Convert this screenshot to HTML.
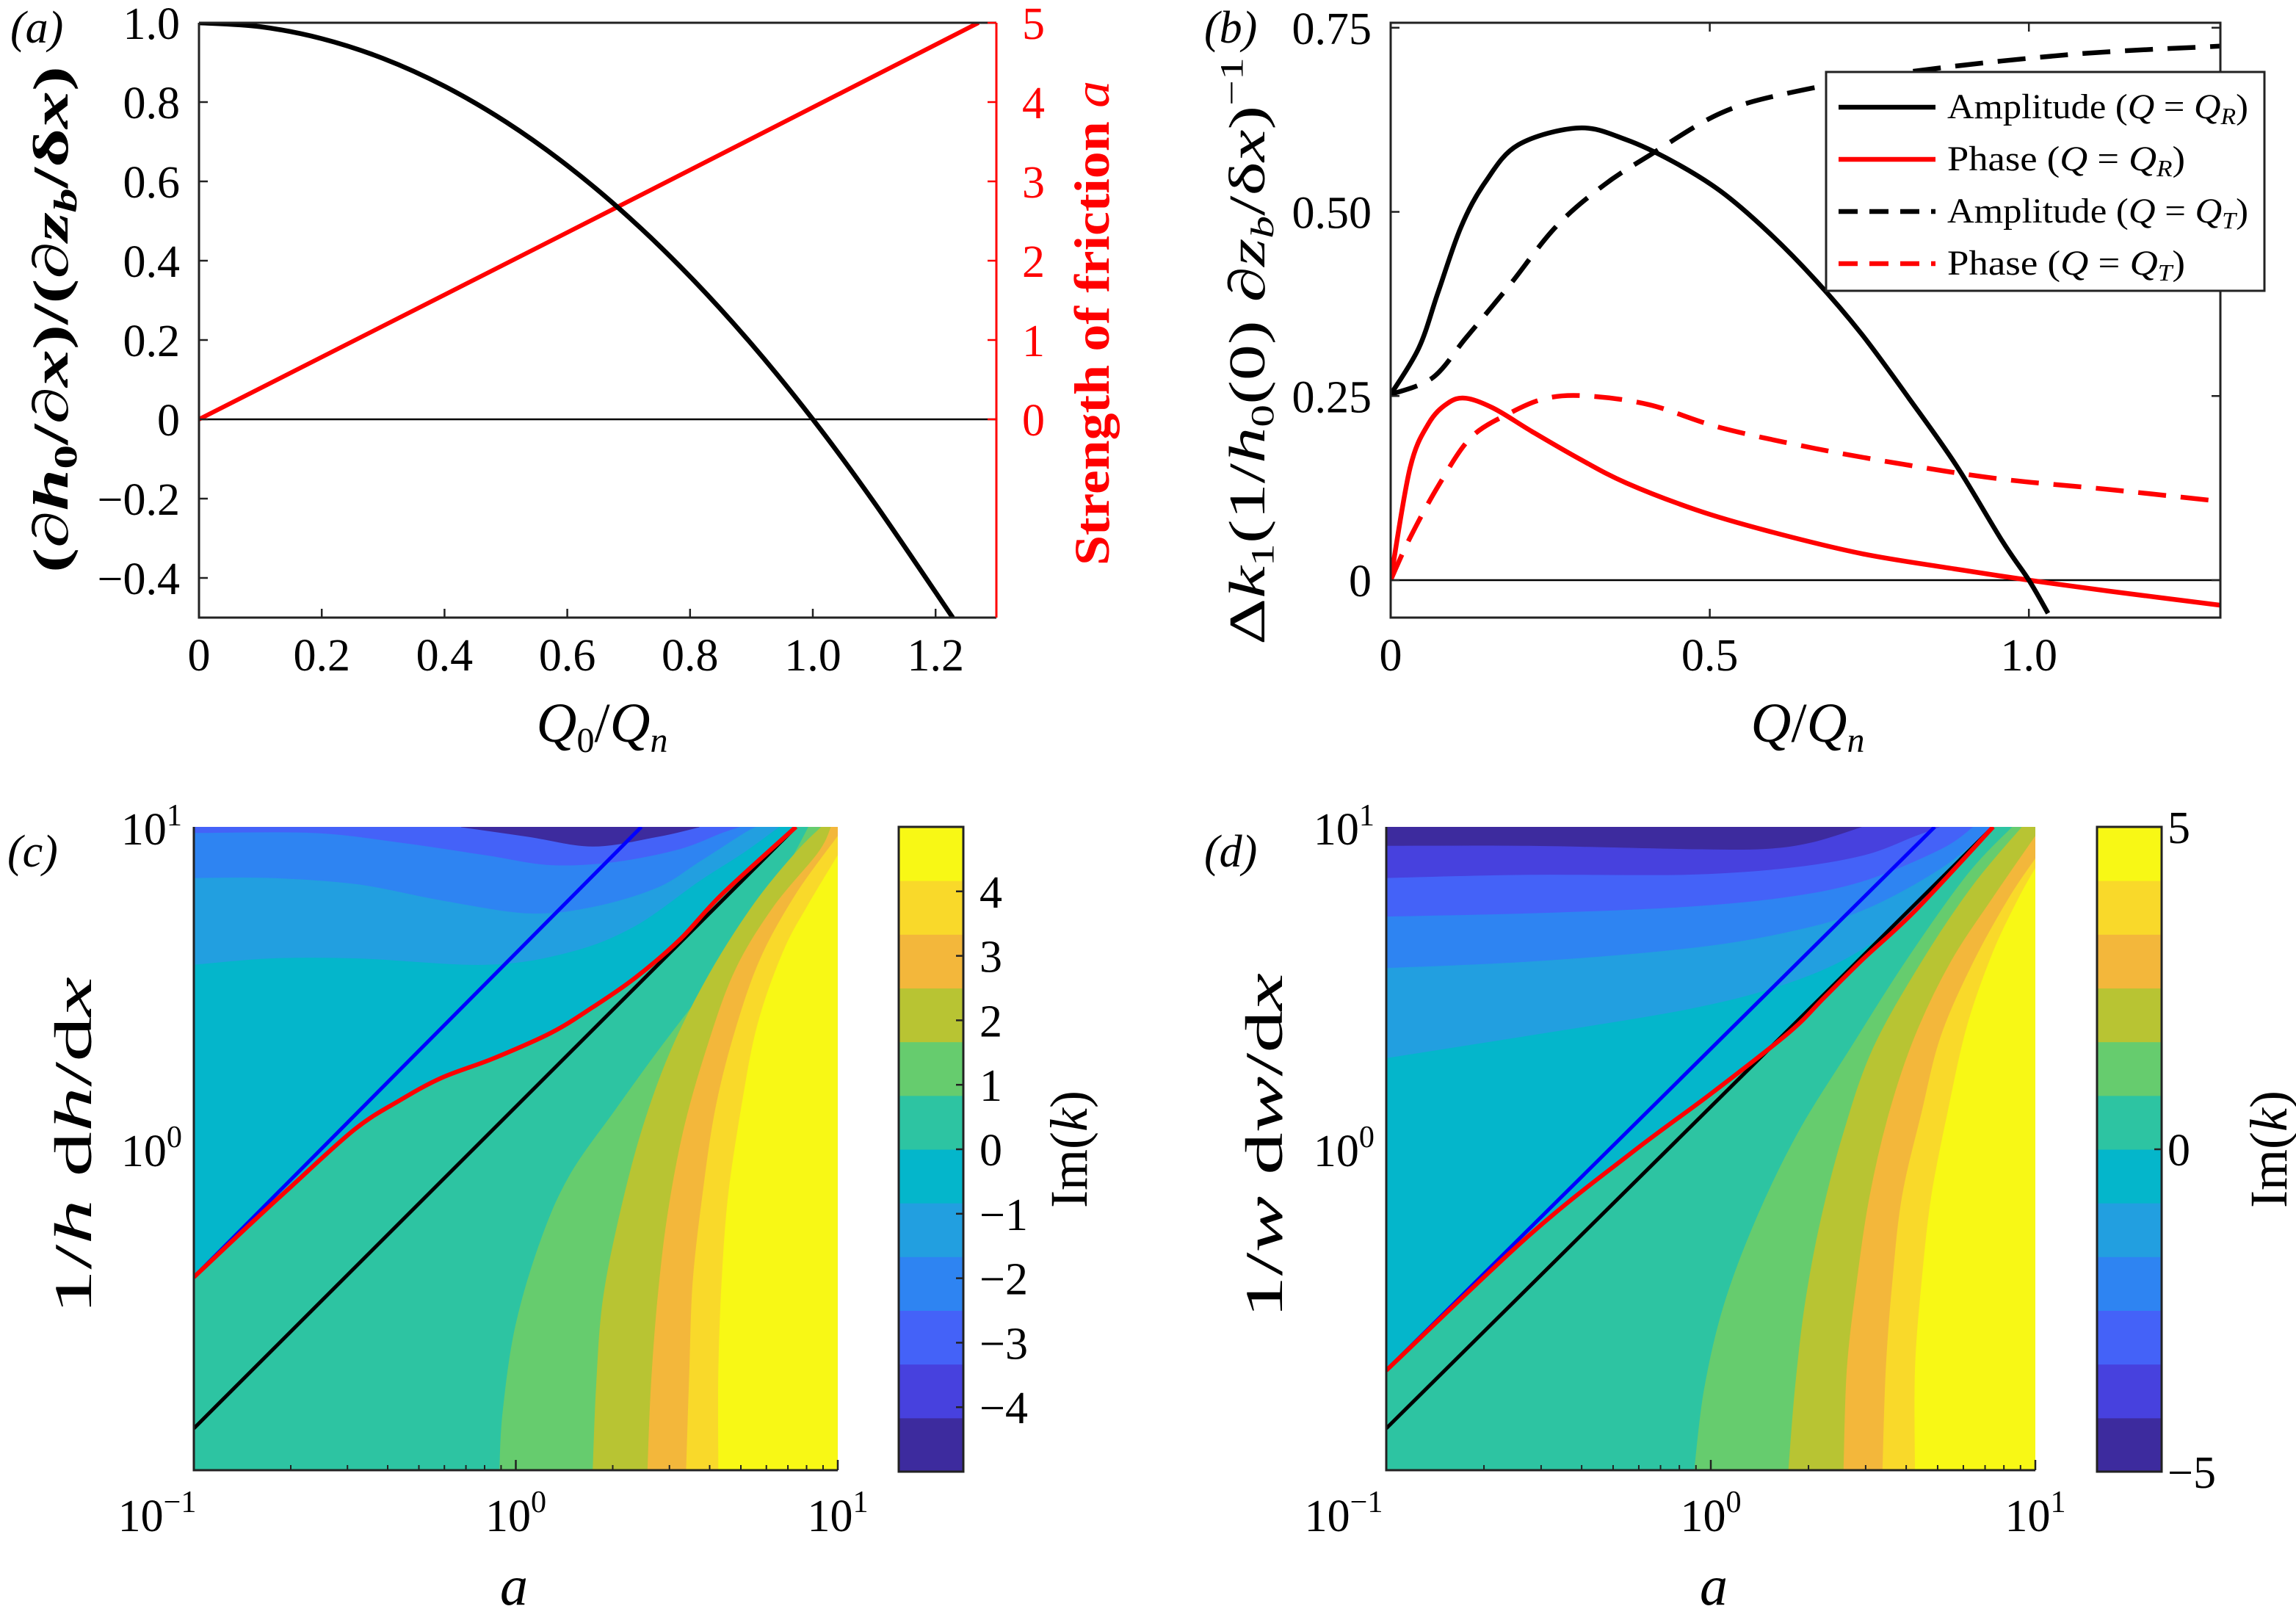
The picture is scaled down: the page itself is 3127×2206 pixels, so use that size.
<!DOCTYPE html>
<html><head><meta charset="utf-8">
<style>
html,body{margin:0;padding:0;background:#fff;}
svg{display:block;}
text{font-family:"Liberation Serif",serif;}
</style></head>
<body>
<svg id="fig" xmlns="http://www.w3.org/2000/svg" width="3127" height="2206" viewBox="0 0 3127 2206">
<defs>
<clipPath id="clipA"><rect x="271" y="31" width="1086" height="810"/></clipPath>
<clipPath id="clipB"><rect x="1894" y="31" width="1130" height="810"/></clipPath>
<clipPath id="clipC"><rect x="264" y="1126" width="877" height="876"/></clipPath>
<clipPath id="clipD"><rect x="1888" y="1126" width="884" height="876"/></clipPath>
</defs>
</svg>
<script>
// ---------- Panel (a) data ----------
const aQ = [0, 0.1, 0.2, 0.3, 0.4, 0.5, 0.6, 0.7, 0.8, 0.9, 1.0, 1.1, 1.228];
const aSlope = [1, 0.99, 0.96, 0.91, 0.84, 0.75, 0.64, 0.51, 0.36, 0.19, 0.0, -0.21, -0.5];
const aFrictionQ = [0, 0.68, 1.27];
const aFriction = [0, 2.67, 5.0];
const aXTicks = [0, 0.2, 0.4, 0.6, 0.8, 1.0, 1.2];
const aXTickLabels = ["0", "0.2", "0.4", "0.6", "0.8", "1.0", "1.2"];
const aYTicks = [-0.4, -0.2, 0, 0.2, 0.4, 0.6, 0.8, 1.0];
const aYTickLabels = ["\u22120.4", "\u22120.2", "0", "0.2", "0.4", "0.6", "0.8", "1.0"];
const aRTicks = [0, 1, 2, 3, 4, 5];
// ---------- Panel (b) data ----------
const bAmpRQ = [0, 0.044, 0.074, 0.11, 0.148, 0.2, 0.295, 0.369, 0.443, 0.517, 0.59, 0.664, 0.738, 0.812, 0.886, 0.959, 1.0, 1.03];
const bAmpR = [0.252, 0.315, 0.39, 0.479, 0.54, 0.591, 0.614, 0.598, 0.568, 0.528, 0.474, 0.409, 0.334, 0.247, 0.156, 0.052, 0, -0.045];
const bAmpTQ = [0, 0.066, 0.118, 0.185, 0.258, 0.332, 0.406, 0.517, 0.627, 0.812, 1.07, 1.3];
const bAmpT = [0.252, 0.275, 0.329, 0.399, 0.479, 0.535, 0.577, 0.634, 0.662, 0.69, 0.714, 0.725];
const bPhRQ = [0, 0.03, 0.059, 0.089, 0.118, 0.162, 0.221, 0.295, 0.369, 0.48, 0.59, 0.738, 0.886, 1.0, 1.126, 1.3];
const bPhR = [0, 0.151, 0.212, 0.24, 0.247, 0.233, 0.202, 0.165, 0.132, 0.095, 0.067, 0.036, 0.015, 0, -0.015, -0.034];
const bPhTQ = [0, 0.03, 0.074, 0.125, 0.185, 0.244, 0.31, 0.406, 0.517, 0.664, 0.812, 0.959, 1.126, 1.3];
const bPhT = [0, 0.057, 0.127, 0.193, 0.226, 0.247, 0.25, 0.238, 0.207, 0.179, 0.156, 0.137, 0.123, 0.107];
const bXTicks = [0, 0.5, 1.0];
const bXTickLabels = ["0", "0.5", "1.0"];
const bYTicks = [0, 0.25, 0.5, 0.75];
const bYTickLabels = ["0", "0.25", "0.50", "0.75"];
// ---------- Panel (c) data (log10 a, log10 y) ----------
const cBoundKind = ["blob","blob","lower","lower","lower","lower","lower","lower","lower","lower","lower"];
const cBoundBand = [1, 0, 3, 4, 5, 6, 7, 8, 9, 10, 11];
const cBoundLogA = [
 [0.07,0.24,0.39],
 [-0.17,0.04,0.24,0.44,0.57],
 [-1,-0.63,-0.36,-0.09,0.11,0.31,0.51,0.64,0.70],
 [-1,-0.76,-0.49,-0.23,0.04,0.24,0.44,0.57,0.71,0.75],
 [-1,-0.76,-0.49,-0.09,0.17,0.37,0.57,0.71,0.82],
 [-1,-0.83,-0.70,-0.50,-0.36,-0.23,-0.07,0.11,0.24,0.37,0.51,0.64,0.87],
 [-0.05,-0.04,0.00,0.08,0.17,0.31,0.44,0.57,0.71,0.84,0.91],
 [0.24,0.25,0.27,0.32,0.39,0.48,0.60,0.74,0.87,0.95],
 [0.41,0.42,0.44,0.47,0.52,0.59,0.68,0.80,0.94,0.98],
 [0.53,0.54,0.55,0.58,0.62,0.68,0.76,0.87,1],
 [0.63,0.63,0.64,0.66,0.70,0.75,0.83,0.91,1]
];
const cBoundLogY = [
 [1,0.98,1],
 [1,0.97,0.94,0.97,1],
 [0.98,0.98,0.95,0.91,0.88,0.89,0.93,0.98,1],
 [0.84,0.84,0.82,0.77,0.73,0.75,0.81,0.89,0.98,1],
 [0.57,0.59,0.59,0.57,0.61,0.69,0.83,0.92,1],
 [-0.40,-0.24,-0.12,0.06,0.15,0.22,0.28,0.36,0.44,0.53,0.65,0.79,1],
 [-1,-0.82,-0.55,-0.28,-0.08,0.12,0.30,0.47,0.65,0.87,1],
 [-1,-0.75,-0.48,-0.22,0.05,0.30,0.54,0.76,0.92,1],
 [-1,-0.75,-0.48,-0.22,0.05,0.30,0.55,0.75,0.92,1],
 [-1,-0.69,-0.42,-0.15,0.12,0.36,0.59,0.79,0.97],
 [-1,-0.69,-0.42,-0.15,0.12,0.38,0.61,0.76,0.91]
];
const cRedLogA = [-1,-0.83,-0.70,-0.50,-0.36,-0.23,-0.07,0.11,0.24,0.37,0.51,0.64,0.87];
const cRedLogY = [-0.40,-0.24,-0.12,0.06,0.15,0.22,0.28,0.36,0.44,0.53,0.65,0.79,1];
const cBlueLogA = [-1, 0.39];
const cBlueLogY = [-0.40, 1];
const cBlackLogA = [-1, 0.87];
const cBlackLogY = [-0.87, 1];
const cCbTicks = [-4,-3,-2,-1,0,1,2,3,4];
const cCbTickLabels = ["\u22124","\u22123","\u22122","\u22121","0","1","2","3","4"];
// ---------- Panel (d) data ----------
const dBoundKind = ["lower","lower","lower","lower","lower","lower","lower","lower","lower","lower","lower"];
const dBoundBand = [1,2,3,4,5,6,7,8,9,10,11];
const dBoundLogA = [
 [-1,-0.56,-0.08,0.16,0.31,0.47],
 [-1,-0.56,-0.08,0.23,0.47,0.63,0.71],
 [-1,-0.56,-0.08,0.23,0.47,0.71,0.81],
 [-1,-0.56,-0.08,0.23,0.47,0.71,0.87],
 [-1,-0.56,-0.08,0.23,0.47,0.71,0.92],
 [-1,-0.56,-0.24,0.00,0.24,0.35,0.47,0.63,0.87],
 [-0.05,-0.02,0.04,0.14,0.27,0.43,0.60,0.79,0.93],
 [0.24,0.26,0.29,0.34,0.41,0.50,0.65,0.81,0.96],
 [0.41,0.42,0.45,0.49,0.55,0.63,0.74,0.87,1],
 [0.53,0.54,0.56,0.59,0.65,0.71,0.81,0.92,1],
 [0.63,0.63,0.65,0.68,0.73,0.79,0.87,0.95,1]
];
const dBoundLogY = [
 [0.94,0.94,0.93,0.93,0.95,1],
 [0.84,0.85,0.85,0.87,0.91,0.97,1],
 [0.72,0.73,0.75,0.78,0.83,0.93,1],
 [0.56,0.58,0.62,0.67,0.74,0.87,1],
 [0.28,0.35,0.43,0.51,0.62,0.81,1],
 [-0.69,-0.27,-0.01,0.17,0.36,0.47,0.59,0.74,1],
 [-1,-0.75,-0.49,-0.22,0.05,0.31,0.58,0.85,1],
 [-1,-0.75,-0.49,-0.22,0.05,0.31,0.58,0.82,1],
 [-1,-0.69,-0.42,-0.15,0.11,0.35,0.58,0.78,0.97],
 [-1,-0.69,-0.42,-0.15,0.11,0.35,0.58,0.78,0.90],
 [-1,-0.69,-0.42,-0.15,0.11,0.38,0.61,0.78,0.87]
];
const dRedLogA = [-1,-0.56,-0.24,0.00,0.24,0.35,0.47,0.63,0.87];
const dRedLogY = [-0.69,-0.27,-0.01,0.17,0.36,0.47,0.59,0.74,1];
const dBlueLogA = [-1, 0.69];
const dBlueLogY = [-0.69, 1];
const dBlackLogA = [-1, 0.87];
const dBlackLogY = [-0.87, 1];
const dCbTicks = [-5, 0, 5];
const dCbTickLabels = ["\u22125", "0", "5"];
const cbEdges = [-5,-4.1667,-3.3333,-2.5,-1.6667,-0.8333,0,0.8333,1.6667,2.5,3.3333,4.1667,5];

const palette = ["#3d2b9e","#4741de","#4462f8","#2e84f2","#229fe0","#04b6cb","#2dc4a2","#66cc6e","#b8c433","#f3b73b","#f9d92a","#f8f815"];

// ---------- axis functions ----------
const xA = v => 271 + v * 836;
const yA = v => 571 - v * 540;
const yAr = v => 571 - v * 108;
const xB = v => 1894 + v * 869.2;
const yB = v => 790 - v * 1003;
const xC = u => 264 + (u + 1) / 2 * 877;
const yC = v => 2002 - (v + 1) / 2 * 876;
const xD = u => 1888 + (u + 1) / 2 * 884;
const yD = v => 2002 - (v + 1) / 2 * 876;
const yCbC = v => 1565 - v * 87.8;
const yCbD = v => 1565 - v * 87.8;

const svg = document.getElementById('fig');
const NS = 'http://www.w3.org/2000/svg';
function mk(tag, attrs, parent) {
  const el = document.createElementNS(NS, tag);
  for (const k in attrs) el.setAttribute(k, attrs[k]);
  (parent || svg).appendChild(el);
  return el;
}
// smooth Catmull-Rom path through mapped points
function pathFrom(xs, ys, fx, fy) {
  const P = xs.map((x, i) => [fx(x), fy(ys[i])]);
  let d = 'M' + P[0][0].toFixed(1) + ',' + P[0][1].toFixed(1);
  if (P.length < 3) {
    for (let i = 1; i < P.length; i++) d += 'L' + P[i][0].toFixed(1) + ',' + P[i][1].toFixed(1);
    return d;
  }
  for (let i = 0; i < P.length - 1; i++) {
    const p0 = P[Math.max(0, i - 1)], p1 = P[i], p2 = P[i + 1], p3 = P[Math.min(P.length - 1, i + 2)];
    const c1x = p1[0] + (p2[0] - p0[0]) / 6, c1y = p1[1] + (p2[1] - p0[1]) / 6;
    const c2x = p2[0] - (p3[0] - p1[0]) / 6, c2y = p2[1] - (p3[1] - p1[1]) / 6;
    d += 'C' + c1x.toFixed(1) + ',' + c1y.toFixed(1) + ' ' + c2x.toFixed(1) + ',' + c2y.toFixed(1) + ' ' + p2[0].toFixed(1) + ',' + p2[1].toFixed(1);
  }
  return d;
}
function txt(x, y, s, size, anchor, extra) {
  const t = mk('text', Object.assign({x: x, y: y, 'font-size': size, 'text-anchor': anchor || 'middle'}, extra || {}));
  t.textContent = s;
  return t;
}
function sup(x, y, base, exp, size, anchor) {
  const t = mk('text', {x: x, y: y, 'font-size': size, 'text-anchor': anchor || 'middle'});
  const a = document.createElementNS(NS, 'tspan'); a.textContent = base; t.appendChild(a);
  const b = document.createElementNS(NS, 'tspan'); b.setAttribute('dy', -size * 0.42); b.setAttribute('font-size', size * 0.68); b.textContent = exp; t.appendChild(b);
  return t;
}

// ================= PANEL A =================
let g, el;
g = mk('g', {});


el = mk('line', {x1: xA(0), y1: yA(0), x2: 1357, y2: yA(0), stroke: '#000', 'stroke-width': 2.5}, g);


el = mk('path', {d: pathFrom(aFrictionQ, aFriction, xA, yAr), fill: 'none', stroke: '#ff0000', 'stroke-width': 6, 'clip-path': 'url(#clipA)'}, g);


el = mk('path', {d: pathFrom(aQ, aSlope, xA, yA), fill: 'none', stroke: '#000', 'stroke-width': 6.5, 'clip-path': 'url(#clipA)'}, g);


el = mk('path', {d: 'M271,31H1357M271,31V841H1357', fill: 'none', stroke: '#222', 'stroke-width': 3}, g);


el = mk('line', {x1: 1357, y1: 31, x2: 1357, y2: 841, stroke: '#ff0000', 'stroke-width': 3}, g);


aXTicks.forEach((v, i) => {
  el = mk('line', {x1: xA(v), y1: 841, x2: xA(v), y2: 829, stroke: '#222', 'stroke-width': 2.5}, g);
  
  
  el = txt(xA(v), 913, aXTickLabels[i], 62);
  
  
});
aYTicks.forEach((v, i) => {
  el = mk('line', {x1: 271, y1: yA(v), x2: 283, y2: yA(v), stroke: '#222', 'stroke-width': 2.5}, g);
  
  
  el = txt(245, yA(v) + 22, aYTickLabels[i], 62, 'end');
  
  
});
aRTicks.forEach(v => {
  el = mk('line', {x1: 1357, y1: yAr(v), x2: 1345, y2: yAr(v), stroke: '#ff0000', 'stroke-width': 2.5}, g);
  
  
  el = txt(1392, yAr(v) + 22, String(v), 62, 'start', {fill: '#ff0000'});
  
  
});
el = txt(14, 58, '(a)', 62, 'start', {'font-style': 'italic'});


el = mk('text', {x: 820, y: 1010, 'font-size': 76, 'text-anchor': 'middle', 'font-style': 'italic'}, g);
el.innerHTML = 'Q<tspan font-size="48" dy="14" font-style="normal">0</tspan><tspan dy="-14" font-style="normal">/</tspan>Q<tspan font-size="48" dy="14">n</tspan>';


el = mk('text', {x: 0, y: 0, 'font-size': 68, 'text-anchor': 'middle', 'font-weight': 'bold', transform: 'translate(92,435) rotate(-90)', textLength: 690, lengthAdjust: 'spacingAndGlyphs'}, g);
el.innerHTML = '(∂<tspan font-style="italic">h</tspan><tspan font-size="44" dy="12">0</tspan><tspan dy="-12">/∂</tspan><tspan font-style="italic">x</tspan>)/(∂<tspan font-style="italic">z</tspan><tspan font-size="44" dy="12" font-style="italic">b</tspan><tspan dy="-12">/δ</tspan><tspan font-style="italic">x</tspan>)';


el = mk('text', {x: 0, y: 0, 'font-size': 68, 'text-anchor': 'middle', 'font-weight': 'bold', fill: '#ff0000', transform: 'translate(1510,440) rotate(-90)', textLength: 660, lengthAdjust: 'spacingAndGlyphs'}, g);
el.innerHTML = 'Strength of friction <tspan font-style="italic" font-weight="normal">a</tspan>';



// ================= PANEL B =================
g = mk('g', {});


el = mk('line', {x1: 1894, y1: yB(0), x2: 3024, y2: yB(0), stroke: '#000', 'stroke-width': 2.5}, g);


el = mk('path', {d: pathFrom(bPhTQ, bPhT, xB, yB), fill: 'none', stroke: '#ff0000', 'stroke-width': 6.5, 'stroke-dasharray': '38,20', 'clip-path': 'url(#clipB)'}, g);


el = mk('path', {d: pathFrom(bAmpTQ, bAmpT, xB, yB), fill: 'none', stroke: '#000', 'stroke-width': 6.5, 'stroke-dasharray': '38,20', 'clip-path': 'url(#clipB)'}, g);


el = mk('path', {d: pathFrom(bPhRQ, bPhR, xB, yB), fill: 'none', stroke: '#ff0000', 'stroke-width': 6.5, 'clip-path': 'url(#clipB)'}, g);


el = mk('path', {d: pathFrom(bAmpRQ, bAmpR, xB, yB), fill: 'none', stroke: '#000', 'stroke-width': 6.5, 'clip-path': 'url(#clipB)'}, g);


el = mk('rect', {x: 1894, y: 31, width: 1130, height: 810, fill: 'none', stroke: '#222', 'stroke-width': 3}, g);


bXTicks.forEach((v, i) => {
  el = mk('path', {d: `M${xB(v)},841v-12M${xB(v)},31v12`, stroke: '#222', 'stroke-width': 2.5}, g);
  
  
  el = txt(xB(v), 913, bXTickLabels[i], 62);
  
  
});
bYTicks.forEach((v, i) => {
  el = mk('path', {d: `M1894,${yB(v)}h12M3024,${yB(v)}h-12`, stroke: '#222', 'stroke-width': 2.5}, g);
  
  
  el = txt(1868, yB(v) + 22, bYTickLabels[i], 62, 'end');
  
  
});
el = txt(1640, 58, '(b)', 62, 'start', {'font-style': 'italic'});


el = mk('text', {x: 2462, y: 1010, 'font-size': 76, 'text-anchor': 'middle', 'font-style': 'italic'}, g);
el.innerHTML = 'Q<tspan font-style="normal">/</tspan>Q<tspan font-size="48" dy="14">n</tspan>';


el = mk('text', {x: 0, y: 0, 'font-size': 70, 'text-anchor': 'middle', transform: 'translate(1722,478) rotate(-90)', textLength: 800, lengthAdjust: 'spacingAndGlyphs'}, g);
el.innerHTML = 'Δ<tspan font-style="italic">k</tspan><tspan font-size="44" dy="12">1</tspan><tspan dy="-12">(1/</tspan><tspan font-style="italic">h</tspan><tspan font-size="44" dy="12">0</tspan><tspan dy="-12">(0) ∂</tspan><tspan font-style="italic">z</tspan><tspan font-size="44" dy="12" font-style="italic">b</tspan><tspan dy="-12">/δ</tspan><tspan font-style="italic">x</tspan>)<tspan font-size="44" dy="-30">−1</tspan>';


// legend
const lg = mk('g', {}, g);


el = mk('rect', {x: 2487, y: 98, width: 597, height: 298, fill: '#fff', stroke: '#222', 'stroke-width': 3}, lg);


const legLabels = [['Amplitude','R'],['Phase','R'],['Amplitude','T'],['Phase','T']];
const legColors = ['#000', '#ff0000', '#000', '#ff0000'];
const legDash = ['none', 'none', '26,16', '26,16'];
const legWidths = [410, 324, 410, 324];
const legRows = [0, 1, 2, 3];
legRows.forEach(i => {
  const yy = 146 + i * 71;
  el = mk('line', {x1: 2504, y1: yy, x2: 2636, y2: yy, stroke: legColors[i], 'stroke-width': 6.5, 'stroke-dasharray': legDash[i]}, lg);
  
  
  el = mk('text', {x: 2652, y: yy + 15, 'font-size': 48, 'text-anchor': 'start', textLength: legWidths[i], lengthAdjust: 'spacingAndGlyphs'}, lg);
  el.innerHTML = legLabels[i][0] + ' (<tspan font-style="italic">Q</tspan> = <tspan font-style="italic">Q</tspan><tspan font-size="32" dy="8" font-style="italic">' + legLabels[i][1] + '</tspan><tspan dy="-8">)</tspan>';
  
  
});

// ================= CONTOUR PANELS =================
function contourPanel(name, fx, fy, clip, bgBand, kinds, bands, LA, LY, redA, redY, blueA, blueY, blackA, blackY) {
  const pg = mk('g', {'clip-path': 'url(#' + clip + ')'});
  
  
  el = mk('rect', {x: fx(-1), y: fy(1), width: fx(1) - fx(-1), height: fy(-1) - fy(1), fill: palette[bgBand]}, pg);
  
  
  LA.forEach((us, k) => {
    const vs = LY[k];
    let d = pathFrom(us, vs, fx, fy);
    if (kinds[k] === 'lower') {
      const endV = vs[vs.length - 1];
      if (endV >= 0.999) d += 'L' + fx(1) + ',' + fy(1);
      d += 'L' + fx(1) + ',' + fy(-1);
      if (us[0] <= -0.999) d += 'L' + fx(-1) + ',' + fy(-1);
    }
    d += 'Z';
    el = mk('path', {d: d, fill: palette[bands[k]], stroke: palette[bands[k]], 'stroke-width': 1}, pg);
    
    
  });
  el = mk('path', {d: pathFrom(blackA, blackY, fx, fy), fill: 'none', stroke: '#000', 'stroke-width': 5}, pg);
  
  
  el = mk('path', {d: pathFrom(blueA, blueY, fx, fy), fill: 'none', stroke: '#0000ff', 'stroke-width': 5}, pg);
  
  
  el = mk('path', {d: pathFrom(redA, redY, fx, fy), fill: 'none', stroke: '#ff0000', 'stroke-width': 6, 'stroke-linejoin': 'round'}, pg);
  
  
  el = mk('path', {d: `M${fx(-1)},${fy(1)}V${fy(-1)}H${fx(1)}`, fill: 'none', stroke: '#222', 'stroke-width': 3});
  
  
  const decades = [-1, 0];
  const minors = [2, 3, 4, 5, 6, 7, 8, 9];
  decades.forEach(dec => minors.forEach(m => {
    const u = dec + Math.log10(m);
    el = mk('line', {x1: fx(u), y1: fy(-1), x2: fx(u), y2: fy(-1) - 7, stroke: '#222', 'stroke-width': 2});
    
    
  }));
  [-1, 0, 1].forEach(u => {
    el = mk('line', {x1: fx(u), y1: fy(-1), x2: fx(u), y2: fy(-1) - 14, stroke: '#222', 'stroke-width': 2.5});
    
    
  });
}
function colorbar(name, cx0, cx1, fy, ticks, labels, labelX, titleX) {
  const cg = mk('g', {});
  
  
  for (let i = 0; i < 12; i++) {
    el = mk('rect', {x: cx0, y: fy(cbEdges[i + 1]), width: cx1 - cx0, height: fy(cbEdges[i]) - fy(cbEdges[i + 1]) + 0.5, fill: palette[i]}, cg);
    
    
  }
  el = mk('rect', {x: cx0, y: fy(5), width: cx1 - cx0, height: fy(-5) - fy(5), fill: 'none', stroke: '#222', 'stroke-width': 3}, cg);
  
  
  ticks.forEach((v, i) => {
    el = mk('line', {x1: cx1, y1: fy(v), x2: cx1 - 10, y2: fy(v), stroke: '#222', 'stroke-width': 2.5}, cg);
    
    
    el = txt(labelX, fy(v) + 22, labels[i], 62, 'start');
    
    
  });
  el = mk('text', {x: 0, y: 0, 'font-size': 72, 'text-anchor': 'middle', transform: `translate(${titleX},1565) rotate(-90)`}, cg);
  el.innerHTML = 'Im(<tspan font-style="italic">k</tspan>)';
  
  
}

contourPanel('panel-c', xC, yC, 'clipC', 2, cBoundKind, cBoundBand, cBoundLogA, cBoundLogY, cRedLogA, cRedLogY, cBlueLogA, cBlueLogY, cBlackLogA, cBlackLogY);
contourPanel('panel-d', xD, yD, 'clipD', 0, dBoundKind, dBoundBand, dBoundLogA, dBoundLogY, dRedLogA, dRedLogY, dBlueLogA, dBlueLogY, dBlackLogA, dBlackLogY);
colorbar('colorbar-c', 1224, 1312, yCbC, cCbTicks, cCbTickLabels, 1334, 1480);
colorbar('colorbar-d', 2856, 2944, yCbD, dCbTicks, dCbTickLabels, 2952, 3114);

// tick labels & titles c/d
el = sup(214, 2085, '10', '\u22121', 62);


el = sup(xC(0), 2085, '10', '0', 62);


el = sup(xC(1), 2085, '10', '1', 62);


el = sup(248, yC(1) + 24, '10', '1', 62, 'end');


el = sup(248, yC(0) + 24, '10', '0', 62, 'end');


el = sup(1830, 2085, '10', '\u22121', 62);


el = sup(xD(0), 2085, '10', '0', 62);


el = sup(xD(1), 2085, '10', '1', 62);


el = sup(1872, yD(1) + 24, '10', '1', 62, 'end');


el = sup(1872, yD(0) + 24, '10', '0', 62, 'end');


el = txt(700, 2185, 'a', 76, 'middle', {'font-style': 'italic'});


el = txt(2334, 2185, 'a', 76, 'middle', {'font-style': 'italic'});


el = mk('text', {x: 0, y: 0, 'font-size': 72, 'text-anchor': 'middle', transform: 'translate(124,1560) rotate(-90)', textLength: 460, lengthAdjust: 'spacingAndGlyphs'});
el.innerHTML = '1/<tspan font-style="italic">h</tspan> d<tspan font-style="italic">h</tspan>/d<tspan font-style="italic">x</tspan>';


el = mk('text', {x: 0, y: 0, 'font-size': 72, 'text-anchor': 'middle', transform: 'translate(1746,1560) rotate(-90)', textLength: 470, lengthAdjust: 'spacingAndGlyphs'});
el.innerHTML = '1/<tspan font-style="italic">w</tspan> d<tspan font-style="italic">w</tspan>/d<tspan font-style="italic">x</tspan>';


el = txt(10, 1180, '(c)', 62, 'start', {'font-style': 'italic'});


el = txt(1640, 1180, '(d)', 62, 'start', {'font-style': 'italic'});


</script>
</body></html>
